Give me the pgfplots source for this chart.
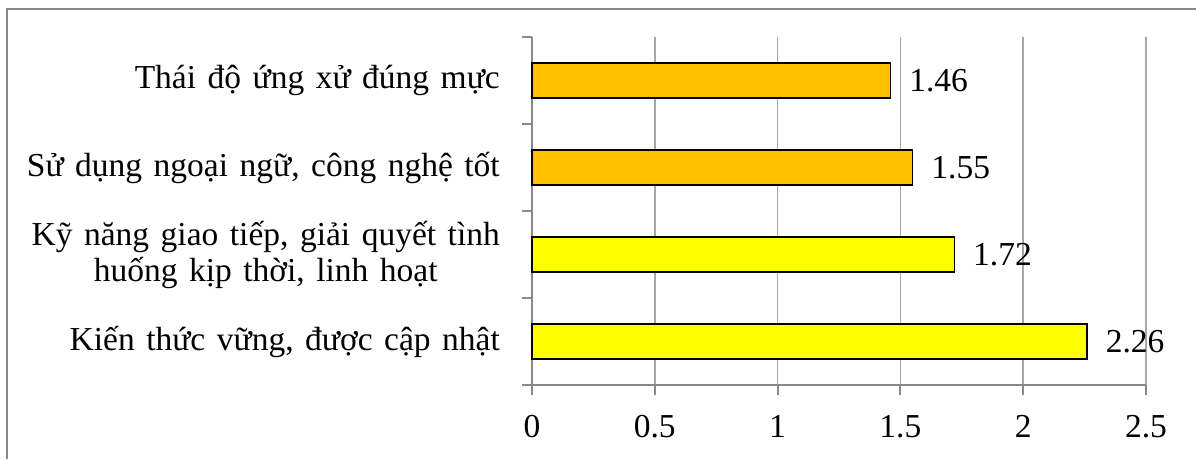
\documentclass[border=0pt]{standalone}
\usepackage{fontspec}
\setmainfont{Liberation Serif}
\usepackage{pgfplots}
\pgfplotsset{compat=1.18}
\definecolor{barorange}{HTML}{FFC000}
\definecolor{baryellow}{HTML}{FFFF00}
\definecolor{axgray}{HTML}{898989}
\definecolor{gridgray}{HTML}{A6A6A6}
\newcommand\cf{\fontsize{33.5}{36}\selectfont\spaceskip=11.5pt plus 2pt minus 1pt\relax}
\begin{document}
\begin{tikzpicture}
\path[use as bounding box] (0,0) rectangle (1196pt,459pt);
\draw[axgray, line width=2pt] (7pt,0) -- (7pt,450pt) -- (1196pt,450pt);
\begin{axis}[
  at={(532pt,74pt)}, anchor=south west,
  width=614pt, height=348pt, scale only axis,
  xmin=0, xmax=2.5, ymin=-0.5, ymax=3.5,
  clip=false,
  axis x line*=bottom, axis y line*=left,
  axis line style={axgray, line width=2pt},
  xtick={0,0.5,1,1.5,2,2.5},
  xticklabels={0,0.5,1,1.5,2,2.5},
  xticklabel style={font=\cf, inner sep=0pt, anchor=north, yshift=-20pt},
  x tick style={axgray, line width=2pt},
  tick align=outside,
  major tick length=10pt,
  xmajorgrids,
  grid style={gridgray, line width=1.5pt},
  ytick={-0.5,0.5,1.5,2.5,3.5},
  yticklabels={},
  y tick style={axgray, line width=2pt},
  extra y ticks={0,1,2,3},
  extra y tick labels={{Kiến thức vững, được cập nhật},{Kỹ năng giao tiếp, giải quyết tình\\huống kịp thời, linh hoạt},{Sử dụng ngoại ngữ, công nghệ tốt},{Thái độ ứng xử đúng mực}},
  extra y tick style={major tick length=0pt, tick style={draw=none},
    yticklabel style={font=\cf, align=center, inner sep=0pt, anchor=east, xshift=-32pt}},
  xbar, bar width=35pt, bar shift=0pt,
  point meta=explicit symbolic,
  nodes near coords,
  every node near coord/.append style={font=\cf, anchor=west, inner sep=0pt, xshift=18pt, text=black},
]
\addplot[fill=baryellow, draw=black, line width=1.5pt] coordinates {(2.26,0) [2.26] (1.72,1) [1.72]};
\addplot[fill=barorange, draw=black, line width=1.5pt] coordinates {(1.55,2) [1.55] (1.46,3) [1.46]};
\end{axis}
\end{tikzpicture}
\end{document}
